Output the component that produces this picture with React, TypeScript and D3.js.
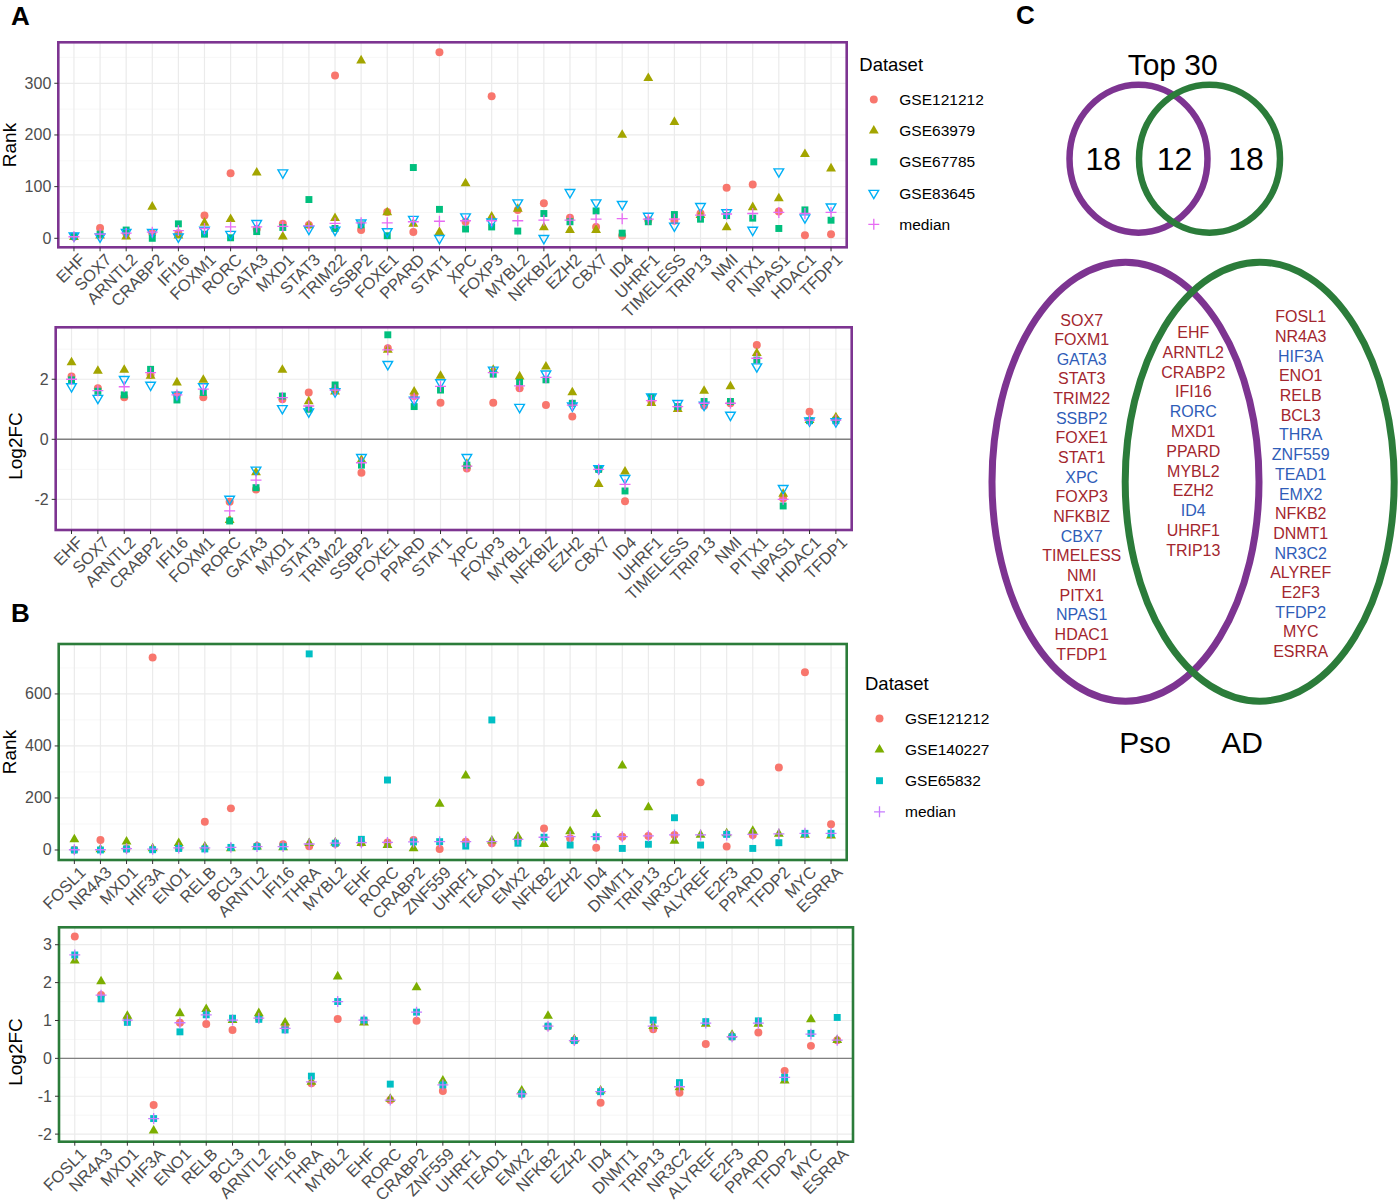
import React from "react";
import * as d3 from "d3";

const FONT = "'Liberation Sans', Arial, Helvetica, sans-serif";

// ---------------- Panel A data ----------------
const genesA = ["EHF","SOX7","ARNTL2","CRABP2","IFI16","FOXM1","RORC","GATA3","MXD1","STAT3","TRIM22","SSBP2","FOXE1","PPARD","STAT1","XPC","FOXP3","MYBL2","NFKBIZ","EZH2","CBX7","ID4","UHRF1","TIMELESS","TRIP13","NMI","PITX1","NPAS1","HDAC1","TFDP1"];
const datasetsA = ["GSE121212","GSE63979","GSE67785","GSE83645","median"];

const rankA_GSE121212 = [3,20,10,10,10,44,126,18,28,26,315,16,51,12,360,32,275,55,68,40,22,5,35,34,48,98,104,52,6,8];
const rankA_GSE63979 = [2,5,3,61,5,30,37,127,3,25,39,344,50,28,12,106,42,57,21,16,16,200,310,225,45,21,60,77,163,135];
const rankA_GSE67785 = [4,8,16,0,28,8,1,13,21,75,19,26,5,137,56,18,22,14,48,32,53,10,32,46,37,44,39,19,55,35];
const rankA_GSE83645 = [5,3,12,12,3,16,8,29,127,18,16,30,13,37,0,42,32,69,0,89,69,66,43,24,62,50,16,129,40,61];
const rankA_median = [3,8,10,12,15,19,22,22,23,24,29,30,30,32,33,34,34,34,35,35,37,38,37,37,45,47,48,50,48,50];

const fcA_GSE121212 = [2.09,1.7,1.4,2.15,1.48,1.4,-2.08,-1.67,1.33,1.56,1.67,-1.11,3.03,1.44,1.22,-0.97,1.22,1.7,1.14,0.76,-1.0,-2.06,1.26,1.07,1.12,1.2,3.14,-1.97,0.92,0.67];
const fcA_GSE63979 = [2.56,2.28,2.31,2.11,1.89,1.98,-2.69,-1.1,2.31,1.26,1.59,-0.69,2.98,1.59,2.11,-0.82,2.31,2.09,2.42,1.56,-1.49,-1.08,1.2,1.0,1.61,1.76,2.87,-1.82,0.64,0.73];
const fcA_GSE67785 = [1.98,1.6,1.48,2.33,1.31,1.56,-2.72,-1.61,1.44,1.0,1.81,-0.86,3.48,1.09,1.64,-0.86,2.17,1.9,1.98,1.2,-1.0,-1.72,1.4,1.09,1.26,1.26,2.64,-2.22,0.62,0.62];
const fcA_GSE83645 = [1.76,1.37,2.0,1.81,1.48,1.76,-1.99,-1.02,1.03,0.92,1.59,-0.6,2.5,1.31,1.89,-0.6,2.31,1.07,2.18,1.12,-0.97,-1.3,1.42,1.2,1.14,0.81,2.42,-1.63,0.62,0.59];
const fcA_median = [2.0,1.62,1.75,2.22,1.48,1.67,-2.38,-1.36,1.39,1.11,1.64,-0.78,2.98,1.37,1.76,-0.89,2.22,1.78,2.06,1.14,-1.0,-1.5,1.29,1.09,1.2,1.2,2.7,-2.0,0.64,0.64];

// ---------------- Panel B data ----------------
const genesB = ["FOSL1","NR4A3","MXD1","HIF3A","ENO1","RELB","BCL3","ARNTL2","IFI16","THRA","MYBL2","EHF","RORC","CRABP2","ZNF559","UHRF1","TEAD1","EMX2","NFKB2","EZH2","ID4","DNMT1","TRIP13","NR3C2","ALYREF","E2F3","PPARD","TFDP2","MYC","ESRRA"];
const datasetsB = ["GSE121212","GSE140227","GSE65832","median"];

const rankB_GSE121212 = [1,38,5,740,8,109,160,15,22,14,24,28,29,38,4,32,26,41,83,45,9,51,54,58,260,13,58,317,683,99];
const rankB_GSE140227 = [41,2,32,6,26,13,6,13,10,26,28,26,19,6,177,286,36,51,22,71,138,324,164,35,58,64,73,62,58,55];
const rankB_GSE65832 = [0,0,4,1,6,4,10,13,13,754,26,41,269,31,32,15,500,26,49,19,51,6,22,124,19,60,6,28,64,64];
const rankB_median = [1,1,5,3,8,8,10,13,13,23,26,28,29,31,32,32,32,41,49,51,51,51,54,58,58,58,60,62,64,64];

const fcB_GSE121212 = [3.22,1.67,1.01,-1.23,0.94,0.91,0.75,1.06,0.82,-0.66,1.04,1.0,-1.1,0.99,-0.86,null,null,-0.94,0.84,0.47,-1.17,null,0.77,-0.91,0.38,0.57,0.68,-0.33,0.33,0.48];
const fcB_GSE140227 = [2.58,2.03,1.12,-1.91,1.19,1.3,1.01,1.19,0.94,-0.62,2.16,0.94,-1.07,1.87,-0.59,null,null,-0.85,1.12,0.5,-0.85,null,0.85,-0.77,0.91,0.62,0.91,-0.59,1.03,0.48];
const fcB_GSE65832 = [2.73,1.57,0.95,-1.59,0.7,1.15,1.06,1.03,0.75,-0.47,1.5,1.01,-0.68,1.22,-0.7,null,null,-0.94,0.85,0.47,-0.88,null,1.01,-0.64,0.97,0.57,0.99,-0.5,0.66,1.08];
const fcB_median = [2.73,1.67,1.01,-1.59,0.94,1.15,1.01,1.06,0.79,-0.62,1.5,1.01,-1.1,1.22,-0.7,null,null,-0.94,0.85,0.47,-0.88,null,0.85,-0.75,0.93,0.57,0.93,-0.5,0.64,0.48];

// ---------------- Panel C data ----------------
const vennTitle = "Top 30";
const vennCounts = [18, 12, 18];
const vennSets = ["Pso", "AD"];
const psoOnly = ["SOX7","FOXM1","GATA3","STAT3","TRIM22","SSBP2","FOXE1","STAT1","XPC","FOXP3","NFKBIZ","CBX7","TIMELESS","NMI","PITX1","NPAS1","HDAC1","TFDP1"];
const shared = ["EHF","ARNTL2","CRABP2","IFI16","RORC","MXD1","PPARD","MYBL2","EZH2","ID4","UHRF1","TRIP13"];
const adOnly = ["FOSL1","NR4A3","HIF3A","ENO1","RELB","BCL3","THRA","ZNF559","TEAD1","EMX2","NFKB2","DNMT1","NR3C2","ALYREF","E2F3","TFDP2","MYC","ESRRA"];
const downGenes = ["GATA3","SSBP2","XPC","CBX7","NPAS1","RORC","ID4","HIF3A","THRA","ZNF559","TEAD1","EMX2","NR3C2","TFDP2"];

// ---------------- styles ----------------
const colorsA = ["#F8766D","#A3A500","#00BF7D","#00B0F6","#E76BF3"];
const colorsB = ["#F8766D","#7CAE00","#00BFC4","#C77CFF"];
const PURPLE = "#7D3491";
const GREEN = "#2B7C3A";
const RED_TXT = "#A3262E";
const BLUE_TXT = "#2F5DB8";

const plusType = {
  draw(ctx: any, size: number) {
    const r = Math.sqrt(size) / 2;
    ctx.moveTo(-r, 0); ctx.lineTo(r, 0);
    ctx.moveTo(0, -r); ctx.lineTo(0, r);
  },
};

type ShapeKey = "circle" | "tri" | "square" | "tdown" | "plus";
const shapeDefs: Record<ShapeKey, { path: string; filled: boolean; rot: number; sw: number }> = {
  circle: { path: d3.symbol(d3.symbolCircle, 50)() as string, filled: true, rot: 0, sw: 0 },
  tri: { path: d3.symbol(d3.symbolTriangle, 42)() as string, filled: true, rot: 0, sw: 0 },
  square: { path: d3.symbol(d3.symbolSquare, 48)() as string, filled: true, rot: 0, sw: 0 },
  tdown: { path: d3.symbol(d3.symbolTriangle, 40)() as string, filled: false, rot: 180, sw: 1.4 },
  plus: { path: d3.symbol(plusType as any, 120)() as string, filled: false, rot: 0, sw: 1.3 },
};

function Marker({ x, y, shape, color }: { x: number; y: number; shape: ShapeKey; color: string }) {
  const s = shapeDefs[shape];
  return (
    <path
      d={s.path}
      transform={`translate(${x},${y})${s.rot ? ` rotate(${s.rot})` : ""}`}
      fill={s.filled ? color : "none"}
      stroke={s.filled ? "none" : color}
      strokeWidth={s.sw}
    />
  );
}

type Series = { values: (number | null)[]; shape: ShapeKey; color: string };

function Panel(props: {
  x0: number; x1: number; y0: number; y1: number;
  genes: string[]; series: Series[];
  yDomain: [number, number]; yTicks: number[]; yMinor: number[];
  border: string; zero?: boolean; yTitle: string; yTitleX: number; yTitleY: number;
}) {
  const { x0, x1, y0, y1, genes, series, yDomain, yTicks, yMinor, border, zero, yTitle, yTitleX, yTitleY } = props;
  const x = d3.scalePoint<string>().domain(genes).range([x0, x1]).padding(0.6);
  const y = d3.scaleLinear().domain(yDomain).range([y1, y0]);
  return (
    <g>
      <rect x={x0} y={y0} width={x1 - x0} height={y1 - y0} fill="#FFFFFF" />
      {yMinor.map((t) => (
        <line key={"mn" + t} x1={x0} x2={x1} y1={y(t)} y2={y(t)} stroke="#F3F3F3" strokeWidth={0.7} />
      ))}
      {yTicks.map((t) => (
        <line key={"mj" + t} x1={x0} x2={x1} y1={y(t)} y2={y(t)} stroke="#EBEBEB" strokeWidth={1.2} />
      ))}
      {genes.map((g) => (
        <line key={"vg" + g} x1={x(g)!} x2={x(g)!} y1={y0} y2={y1} stroke="#EBEBEB" strokeWidth={1.2} />
      ))}
      {zero && <line x1={x0} x2={x1} y1={y(0)} y2={y(0)} stroke="#808080" strokeWidth={1.4} />}
      {series.map((s, si) =>
        s.values.map((v, i) =>
          v === null ? null : (
            <Marker key={si + "-" + i} x={x(genes[i])!} y={y(v)} shape={s.shape} color={s.color} />
          )
        )
      )}
      <rect x={x0} y={y0} width={x1 - x0} height={y1 - y0} fill="none" stroke={border} strokeWidth={2.6} />
      {yTicks.map((t) => (
        <g key={"yt" + t}>
          <line x1={x0 - 4} x2={x0} y1={y(t)} y2={y(t)} stroke="#333333" strokeWidth={1} />
          <text x={x0 - 7} y={y(t)} textAnchor="end" dominantBaseline="central" fontSize={16} fill="#4D4D4D" fontFamily={FONT}>
            {t}
          </text>
        </g>
      ))}
      {genes.map((g) => (
        <g key={"xt" + g}>
          <line x1={x(g)!} x2={x(g)!} y1={y1} y2={y1 + 4} stroke="#333333" strokeWidth={1} />
          <text
            transform={`translate(${x(g)! + 4},${y1 + 5}) rotate(-45)`}
            textAnchor="end"
            dy="0.72em"
            fontSize={16.5}
            fill="#4D4D4D"
            fontFamily={FONT}
          >
            {g}
          </text>
        </g>
      ))}
      <text
        transform={`translate(${yTitleX},${yTitleY}) rotate(-90)`}
        textAnchor="middle"
        fontSize={19}
        fill="#000000"
        fontFamily={FONT}
      >
        {yTitle}
      </text>
    </g>
  );
}

function Legend({ x, y, names, shapes, colors, gap }: { x: number; y: number; names: string[]; shapes: ShapeKey[]; colors: string[]; gap: number }) {
  return (
    <g>
      <text x={x} y={y} fontSize={18.5} fill="#000" fontFamily={FONT}>Dataset</text>
      {names.map((n, i) => {
        const cy = y + 28.5 + i * gap;
        return (
          <g key={n}>
            <Marker x={x + 14.5} y={cy} shape={shapes[i]} color={colors[i]} />
            <text x={x + 40} y={cy} dominantBaseline="central" fontSize={15.5} fill="#000" fontFamily={FONT}>{n}</text>
          </g>
        );
      })}
    </g>
  );
}

function GeneList({ genes, cx, y0, step }: { genes: string[]; cx: number; y0: number; step: number }) {
  return (
    <g>
      {genes.map((g, i) => (
        <text
          key={g}
          x={cx}
          y={y0 + i * step}
          textAnchor="middle"
          dominantBaseline="central"
          fontSize={16}
          fill={downGenes.includes(g) ? BLUE_TXT : RED_TXT}
          fontFamily={FONT}
        >
          {g}
        </text>
      ))}
    </g>
  );
}

export default function App() {
  const shapesA: ShapeKey[] = ["circle", "tri", "square", "tdown", "plus"];
  const shapesB: ShapeKey[] = ["circle", "tri", "square", "plus"];
  const rankA = [rankA_GSE121212, rankA_GSE63979, rankA_GSE67785, rankA_GSE83645, rankA_median];
  const fcA = [fcA_GSE121212, fcA_GSE63979, fcA_GSE67785, fcA_GSE83645, fcA_median];
  const rankB = [rankB_GSE121212, rankB_GSE140227, rankB_GSE65832, rankB_median];
  const fcB = [fcB_GSE121212, fcB_GSE140227, fcB_GSE65832, fcB_median];
  const mk = (vals: (number | null)[][], shapes: ShapeKey[], colors: string[]): Series[] =>
    vals.map((v, i) => ({ values: v, shape: shapes[i], color: colors[i] }));

  return (
    <svg
      width={1398}
      height={1203}
      style={{ position: "absolute", left: 0, top: 0, background: "#FFFFFF" }}
      fontFamily={FONT}
    >
      <rect x={0} y={0} width={1398} height={1203} fill="#FFFFFF" />
      {/* Panel letters */}
      <text x={11} y={25} fontSize={26} fontWeight="bold" fontFamily={FONT}>A</text>
      <text x={11} y={622} fontSize={26} fontWeight="bold" fontFamily={FONT}>B</text>
      <text x={1016} y={24} fontSize={26} fontWeight="bold" fontFamily={FONT}>C</text>

      <Panel x0={58.3} x1={846.7} y0={42.3} y1={247.3} genes={genesA} series={mk(rankA, shapesA, colorsA)}
        yDomain={[-17.4, 379.3]} yTicks={[0, 100, 200, 300]} yMinor={[50, 150, 250, 350]}
        border={PURPLE} yTitle="Rank" yTitleX={16} yTitleY={145} />
      <Panel x0={55.7} x1={851.7} y0={327.3} y1={530} genes={genesA} series={mk(fcA, shapesA, colorsA)}
        yDomain={[-3.02, 3.73]} yTicks={[-2, 0, 2]} yMinor={[-3, -1, 1, 3]} zero
        border={PURPLE} yTitle="Log2FC" yTitleX={22} yTitleY={446} />
      <Panel x0={58.7} x1={846.7} y0={644} y1={860} genes={genesB} series={mk(rankB, shapesB, colorsB)}
        yDomain={[-38.5, 792]} yTicks={[0, 200, 400, 600]} yMinor={[100, 300, 500, 700]}
        border={GREEN} yTitle="Rank" yTitleX={16} yTitleY={752} />
      <Panel x0={59} x1={853} y0={927.3} y1={1141.7} genes={genesB} series={mk(fcB, shapesB, colorsB)}
        yDomain={[-2.2, 3.46]} yTicks={[-2, -1, 0, 1, 2, 3]} yMinor={[-1.5, -0.5, 0.5, 1.5, 2.5]} zero
        border={GREEN} yTitle="Log2FC" yTitleX={22} yTitleY={1052} />

      <Legend x={859.3} y={71} names={datasetsA} shapes={shapesA} colors={colorsA} gap={31.2} />
      <Legend x={865} y={690} names={datasetsB} shapes={shapesB} colors={colorsB} gap={31.1} />

      {/* Panel C: top Venn */}
      <text x={1172.7} y={75} textAnchor="middle" fontSize={30} fill="#000" fontFamily={FONT}>{vennTitle}</text>
      <ellipse cx={1138.5} cy={158.7} rx={69} ry={74} fill="none" stroke={PURPLE} strokeWidth={6.5} />
      <ellipse cx={1209.5} cy={158.7} rx={70.5} ry={74} fill="none" stroke={GREEN} strokeWidth={6.5} />
      {vennCounts.map((c, i) => (
        <text key={i} x={[1103.3, 1174.5, 1246][i]} y={170} textAnchor="middle" fontSize={32} fill="#000" fontFamily={FONT}>{c}</text>
      ))}

      {/* Panel C: big ellipses */}
      <ellipse cx={1125.5} cy={481.7} rx={133.5} ry={219.5} fill="none" stroke={PURPLE} strokeWidth={7} />
      <ellipse cx={1259.7} cy={481.7} rx={134.5} ry={219.5} fill="none" stroke={GREEN} strokeWidth={7} />
      <GeneList genes={psoOnly} cx={1081.7} y0={320} step={19.65} />
      <GeneList genes={shared} cx={1193.3} y0={332.7} step={19.76} />
      <GeneList genes={adOnly} cx={1300.7} y0={316.7} step={19.7} />
      <text x={1145} y={753} textAnchor="middle" fontSize={30} fill="#000" fontFamily={FONT}>{vennSets[0]}</text>
      <text x={1242} y={753} textAnchor="middle" fontSize={30} fill="#000" fontFamily={FONT}>{vennSets[1]}</text>
    </svg>
  );
}
